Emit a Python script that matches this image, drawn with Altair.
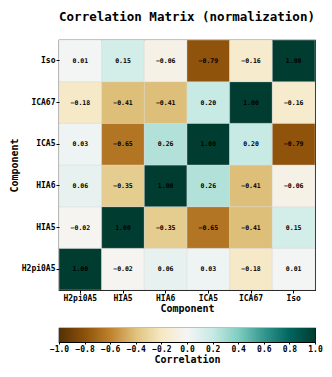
import altair as alt
import pandas as pd

components = ["H2pi0A5", "HIA5", "HIA6", "ICA5", "ICA67", "Iso"]
# rows listed per y component, columns per x component (same order)
matrix = [
    [1.00, -0.02, 0.06, 0.03, -0.18, 0.01],    # H2pi0A5
    [-0.02, 1.00, -0.35, -0.65, -0.41, 0.15],  # HIA5
    [0.06, -0.35, 1.00, 0.26, -0.41, -0.06],   # HIA6
    [0.03, -0.65, 0.26, 1.00, 0.20, -0.79],    # ICA5
    [-0.18, -0.41, -0.41, 0.20, 1.00, -0.16],  # ICA67
    [0.01, 0.15, -0.06, -0.79, -0.16, 1.00],   # Iso
]
colorbar_ticks = [-1.0, -0.8, -0.6, -0.4, -0.2, 0.0, 0.2, 0.4, 0.6, 0.8, 1.0]
# BrBG colour stops
brbg_domain = [-1.0, -0.8, -0.6, -0.4, -0.2, 0.0, 0.2, 0.4, 0.6, 0.8, 1.0]
brbg_colors = ["#543005", "#8c510a", "#bf812d", "#dfc27d", "#f6e8c3", "#f5f5f5",
               "#c7eae5", "#80cdc1", "#35978f", "#01665e", "#003c30"]

rows = []
for i, yc in enumerate(components):
    for j, xc in enumerate(components):
        rows.append({"x": xc, "y": yc, "v": matrix[i][j]})
df = pd.DataFrame(rows)

FONT = "DejaVu Sans Mono"
W, H = 256, 250
CB_H = 14

base = alt.Chart(df)

heat = base.mark_rect(stroke="#d8d8d8", strokeWidth=0.4).encode(
    x=alt.X("x:N", sort=components, title="Component",
            axis=alt.Axis(labelAngle=0, labelFont=FONT, labelFontWeight="bold", labelFontSize=8,
                          titleFont=FONT, titleFontWeight="bold", titleFontSize=10,
                          tickColor="black", domain=False, labelColor="black", titleColor="black",
                          titlePadding=1, labelPadding=1, tickSize=3)),
    y=alt.Y("y:N", sort=list(reversed(components)), title="Component",
            axis=alt.Axis(labelFont=FONT, labelFontWeight="bold", labelFontSize=8,
                          titleFont=FONT, titleFontWeight="bold", titleFontSize=10,
                          tickColor="black", domain=False, labelColor="black", titleColor="black",
                          titlePadding=2, labelPadding=1, tickSize=3)),
    color=alt.Color("v:Q", scale=alt.Scale(domain=brbg_domain, range=brbg_colors, interpolate="rgb"),
                    legend=None),
)

text = base.mark_text(font=FONT, fontSize=6.5, fontWeight="bold", color="black").encode(
    x=alt.X("x:N", sort=components),
    y=alt.Y("y:N", sort=list(reversed(components))),
    text=alt.Text("v:Q", format=".2f"),
)

heatmap = (heat + text).properties(
    width=W, height=H,
    title=alt.TitleParams("Correlation Matrix (normalization)", font=FONT, fontSize=12.5,
                          fontWeight="bold", color="black", offset=16, anchor="middle"),
)

# colour bar: one rect spanning the scale domain, filled with the BrBG gradient
cb_df = pd.DataFrame({"lo": [brbg_domain[0]], "hi": [brbg_domain[-1]]})
n = len(brbg_colors)
stops = [alt.GradientStop(offset=i / (n - 1), color=c) for i, c in enumerate(brbg_colors)]
colorbar = alt.Chart(cb_df).mark_rect(
    fill=alt.Gradient(gradient="linear", stops=stops, x1=0, x2=1, y1=0, y2=0)
).encode(
    x=alt.X("lo:Q", scale=alt.Scale(domain=[brbg_domain[0], brbg_domain[-1]], nice=False, zero=False),
            title="Correlation",
            axis=alt.Axis(values=colorbar_ticks, format=".1f", labelFlush=False, labelOverlap=False,
                          labelFont=FONT, labelFontWeight="bold", labelFontSize=8, labelColor="black",
                          titleFont=FONT, titleFontWeight="bold", titleFontSize=10, titleColor="black",
                          tickColor="black", tickSize=2, labelPadding=1, titlePadding=1,
                          domain=False, grid=False)),
    x2="hi:Q",
).properties(width=W, height=CB_H)

chart = alt.vconcat(heatmap, colorbar, spacing=13).properties(
    padding={"left": 0, "right": 0, "top": 2, "bottom": 0},
).configure_view(stroke="black", strokeWidth=1.2).configure_scale(bandPaddingInner=0, bandPaddingOuter=0)

chart.save("out.html", embed_options={"renderer": "svg", "actions": False})
